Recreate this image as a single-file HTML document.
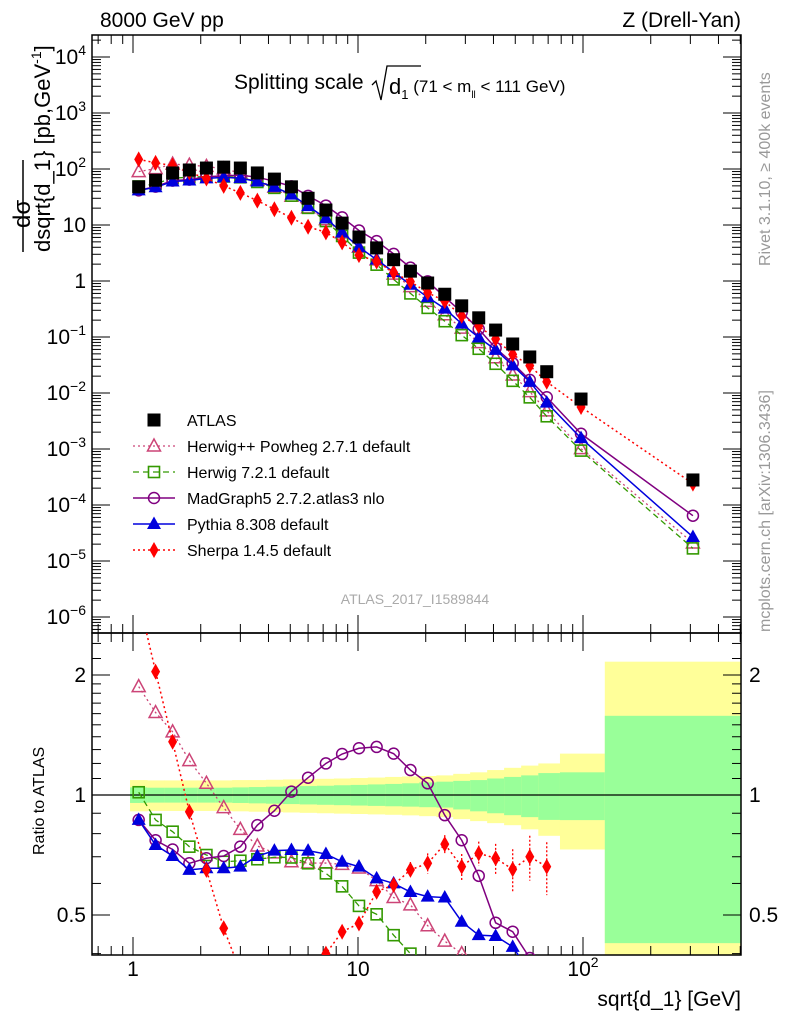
<!DOCTYPE html>
<html><head><meta charset="utf-8"><style>
html,body{margin:0;padding:0;background:#fff;width:786px;height:1024px;overflow:hidden;}
svg{display:block;font-family:"Liberation Sans",sans-serif;}
</style></head><body>
<svg id="chart" width="786" height="1024" viewBox="0 0 786 1024" xmlns="http://www.w3.org/2000/svg">
<defs>
<clipPath id="clipMain"><rect x="92" y="35" width="649" height="598"/></clipPath>
<clipPath id="clipRatio"><rect x="92" y="633" width="649" height="322"/></clipPath>
</defs>
<g id="bands" clip-path="url(#clipRatio)"></g>
<g id="axes"></g>
<g id="mainMarks" clip-path="url(#clipMain)"></g>
<g id="ratioMarks" clip-path="url(#clipRatio)"></g>
<g id="legend"></g>
<text x="100" y="27" font-size="21">8000 GeV pp</text>
<text x="741" y="27" font-size="21" text-anchor="end">Z (Drell-Yan)</text>
<text x="234" y="89" font-size="21">Splitting scale</text>
<path d="M372,85 L376,81 L381,100 L387,66 L421,66" fill="none" stroke="#000" stroke-width="1.3"/>
<text x="389" y="94" font-size="22">d<tspan font-size="13" dy="5">1</tspan><tspan font-size="17" dy="-7"> (71 &lt; m</tspan><tspan font-size="10" dy="6">ll</tspan><tspan font-size="17" dy="-6"> &lt; 111 GeV)</tspan></text>
<text transform="translate(30,228) rotate(-90)" font-size="24">dσ</text>
<line x1="23" y1="252" x2="23" y2="160" stroke="#000" stroke-width="1.5"/>
<text transform="translate(50,252) rotate(-90)" font-size="22">dsqrt{d_1</text>
<text transform="translate(50,158) rotate(-90)" font-size="22">} [pb,GeV<tspan font-size="14" dy="-9">-1</tspan><tspan dy="9">]</tspan></text>
<text transform="translate(44,855) rotate(-90)" font-size="16">Ratio to ATLAS</text>
<text transform="translate(770,266) rotate(-90)" font-size="16" fill="#999">Rivet 3.1.10, ≥ 400k events</text>
<text transform="translate(770,632) rotate(-90)" font-size="16" fill="#999">mcplots.cern.ch [arXiv:1306.3436]</text>
<text x="415" y="604" font-size="14" fill="#aaa" text-anchor="middle">ATLAS_2017_I1589844</text>
<text x="741" y="1006" font-size="21" text-anchor="end">sqrt{d_1} [GeV]</text>
</svg>
<script>
// ---- data ----
const xValues = [1.06,1.26,1.5,1.78,2.12,2.53,3.0,3.57,4.25,5.06,6.0,7.2,8.5,10.1,12.1,14.4,17.1,20.4,24.3,28.9,34.4,40.9,48.7,58,69,98,308];
const binEdges = [0.97,1.155,1.375,1.63,1.94,2.32,2.76,3.27,3.9,4.64,5.51,6.57,7.82,9.27,11.05,13.2,15.7,18.7,22.3,26.5,31.5,37.5,44.6,53.1,63.3,79,125,504];
const atlasValues = [48,63,85,96,104,108,104,85,66,48,30,18.5,10.8,6.1,3.9,2.4,1.5,0.92,0.58,0.36,0.22,0.133,0.075,0.044,0.024,0.0078,0.00028];
const herwigppRatio = [1.87,1.61,1.44,1.22,1.07,0.93,0.82,0.745,0.716,0.68,0.675,0.675,0.67,0.656,0.61,0.553,0.53,0.47,0.43,0.40,0.36,0.32,0.28,0.24,0.2,0.13,0.075];
const herwig7Ratio = [1.016,0.866,0.809,0.742,0.707,0.68,0.684,0.69,0.698,0.697,0.674,0.636,0.59,0.527,0.502,0.445,0.40,0.36,0.33,0.30,0.28,0.25,0.22,0.19,0.16,0.12,0.06];
const madgraphRatio = [0.866,0.77,0.73,0.674,0.694,0.703,0.742,0.84,0.913,1.02,1.105,1.20,1.267,1.31,1.32,1.27,1.155,1.07,0.89,0.77,0.627,0.478,0.454,0.39,0.35,0.24,0.23];
const pythiaRatio = [0.866,0.749,0.703,0.649,0.655,0.655,0.661,0.703,0.725,0.728,0.725,0.711,0.68,0.661,0.618,0.60,0.571,0.556,0.553,0.481,0.445,0.443,0.416,0.36,0.28,0.2,0.096];
const sherpaRatio = [3.1,2.04,1.36,0.908,0.649,0.463,0.36,0.32,0.29,0.28,0.31,0.40,0.454,0.476,0.572,0.595,0.649,0.674,0.753,0.661,0.714,0.694,0.651,0.70,0.661,0.72,0.86];
const sherpaRatioErr = [0,0,0,0,0,0,0,0,0,0,0,0,0.01,0.01,0.02,0.02,0.03,0.04,0.04,0.05,0.05,0.06,0.08,0.09,0.1,0.1,0.1];
const yellowUp = [1.09,1.088,1.088,1.088,1.088,1.088,1.09,1.09,1.092,1.094,1.096,1.098,1.1,1.103,1.106,1.11,1.113,1.116,1.12,1.13,1.14,1.155,1.17,1.185,1.2,1.27,2.16];
const yellowDn = [0.91,0.912,0.912,0.912,0.912,0.912,0.91,0.908,0.906,0.904,0.902,0.9,0.898,0.896,0.894,0.892,0.889,0.885,0.88,0.87,0.86,0.85,0.84,0.82,0.79,0.73,0.3];
const greenUp = [1.045,1.043,1.043,1.043,1.043,1.043,1.045,1.047,1.049,1.051,1.053,1.055,1.058,1.06,1.063,1.066,1.07,1.075,1.08,1.085,1.09,1.1,1.11,1.12,1.135,1.14,1.58];
const greenDn = [0.955,0.957,0.957,0.957,0.957,0.957,0.955,0.953,0.951,0.949,0.947,0.945,0.943,0.941,0.939,0.937,0.935,0.932,0.93,0.92,0.91,0.9,0.89,0.88,0.866,0.865,0.425];
const ratioPointCount = 25;
const mainYTicks = ["10⁻⁶","10⁻⁵","10⁻⁴","10⁻³","10⁻²","10⁻¹","1","10","10²","10³","10⁴"];
const ratioYTicks = [0.5,1,2];
const xTicks = [1,10,100];

// ---- axes functions ----
const NS="http://www.w3.org/2000/svg";
const X0=92,X1=741,MT=35,MB=633,RB=955;
const xp = x => 133 + 225*Math.log10(x);
const yMain = v => 281 - 56*Math.log10(v);
const yRat = r => 795 - 120*Math.log2(r);
function mk(tag, parent, attrs){const e=document.createElementNS(NS,tag);for(const k in attrs)e.setAttribute(k,attrs[k]);parent.appendChild(e);return e;}
const axes=document.getElementById('axes');
const bands=document.getElementById('bands');
const mainG=document.getElementById('mainMarks');
const ratioG=document.getElementById('ratioMarks');
const legend=document.getElementById('legend');

for(let i=0;i<xValues.length;i++){
  const xa=xp(binEdges[i]), xb=xp(binEdges[i+1]);
  const y1=mk('rect',bands,{x:xa,y:yRat(yellowUp[i]),width:xb-xa+0.5,height:yRat(yellowDn[i])-yRat(yellowUp[i]),fill:'#ffff99'});
  
  
  const g1=mk('rect',bands,{x:xa,y:yRat(greenUp[i]),width:xb-xa+0.5,height:yRat(greenDn[i])-yRat(greenUp[i]),fill:'#99ff99'});
  
  
}

const f1=mk('rect',axes,{x:X0,y:MT,width:X1-X0,height:MB-MT,fill:'none',stroke:'#000','stroke-width':1.5});


const f2=mk('rect',axes,{x:X0,y:MB,width:X1-X0,height:RB-MB,fill:'none',stroke:'#000','stroke-width':1.5});


const one=mk('line',axes,{x1:X0,x2:X1,y1:yRat(1),y2:yRat(1),stroke:'#000','stroke-width':1.2});



function tick(x1,y1,x2,y2){mk('line',axes,{x1,y1,x2,y2,stroke:'#000','stroke-width':1});}
for(let d=0.1;d<1000;d*=10){for(let m=1;m<10;m++){const v=d*m; const px=xp(v); if(px<X0||px>X1)continue; const L=(m===1)?18:9;
  tick(px,MT,px,MT+L); tick(px,MB,px,MB-L); tick(px,MB,px,MB+L); tick(px,RB,px,RB-L);}}
xTicks.forEach((v,i)=>{const t=mk('text',axes,{x:xp(v),y:976,'font-size':21,'text-anchor':'middle'});
  t.textContent = v===100?'10':String(v);
  if(v===100){const s=mk('tspan',t,{'font-size':14,dy:-9});s.textContent='2';}
  
  });
for(let e=-7;e<=4;e++){for(let m=1;m<10;m++){const v=m*Math.pow(10,e);const py=yMain(v);if(py<MT||py>MB)continue;const L=(m===1)?18:9;
  tick(X0,py,X0+L,py); tick(X1,py,X1-L,py);}}
mainYTicks.forEach((lab,i)=>{const e=i-6;const py=yMain(Math.pow(10,e));
  const t=mk('text',axes,{x:86,y:py+7,'font-size':21,'text-anchor':'end'});
  if(e===0||e===1){t.textContent=lab;} else {t.textContent='10';const s=mk('tspan',t,{'font-size':14,dy:-9});s.textContent=(e<0?'−':'')+Math.abs(e);}
  
  });
[0.4,0.6,0.7,0.8,0.9,1.1,1.2,1.3,1.4,1.5,1.6,1.7,1.8,1.9,2.2,2.4].forEach(v=>{const py=yRat(v);tick(X0,py,X0+9,py);tick(X1,py,X1-9,py);});
ratioYTicks.forEach(v=>{const py=yRat(v);tick(X0,py,X0+18,py);tick(X1,py,X1-18,py);
  const t=mk('text',axes,{x:86,y:py+7,'font-size':21,'text-anchor':'end'});t.textContent=String(v);
  
  
  const t2=mk('text',axes,{x:749,y:py+7,'font-size':21});t2.textContent=String(v);
  
  });

function marker(g,type,cx,cy,color,s){
  s=s||1;
  if(type==='square') return mk('rect',g,{x:cx-6.5*s,y:cy-6.5*s,width:13*s,height:13*s,fill:'#000'});
  if(type==='osquare') return mk('rect',g,{x:cx-5.5,y:cy-5.5,width:11,height:11,fill:'none',stroke:color,'stroke-width':1.6});
  if(type==='otri') return mk('path',g,{d:`M${cx},${cy-7} L${cx+6.5},${cy+5} L${cx-6.5},${cy+5} Z`,fill:'none',stroke:color,'stroke-width':1.5});
  if(type==='tri') return mk('path',g,{d:`M${cx},${cy-7.5} L${cx+7},${cy+5} L${cx-7},${cy+5} Z`,fill:color});
  if(type==='ocirc') return mk('circle',g,{cx,cy,r:5.5,fill:'none',stroke:color,'stroke-width':1.5});
  if(type==='diam') return mk('path',g,{d:`M${cx},${cy-8} L${cx+4.5},${cy} L${cx},${cy+8} L${cx-4.5},${cy} Z`,fill:color});
}
const series=[
  {name:'herwigpp',label:'Herwig++ Powheg 2.7.1 default',r:herwigppRatio,color:'#cc4477',mk:'otri',dash:'2,3',w:1.3},
  {name:'herwig7',label:'Herwig 7.2.1 default',r:herwig7Ratio,color:'#339900',mk:'osquare',dash:'6,4',w:1.3},
  {name:'madgraph',label:'MadGraph5 2.7.2.atlas3 nlo',r:madgraphRatio,color:'#800080',mk:'ocirc',dash:'',w:1.5},
  {name:'pythia',label:'Pythia 8.308 default',r:pythiaRatio,color:'#0000dd',mk:'tri',dash:'',w:1.5},
  {name:'sherpa',label:'Sherpa 1.4.5 default',r:sherpaRatio,color:'#ff0000',mk:'diam',dash:'2,3',w:1.5}
];
series.forEach(s=>{
  const mainPts=xValues.map((x,i)=>[xp(x),yMain(atlasValues[i]*s.r[i])]);
  const ratPts=xValues.slice(0,ratioPointCount).map((x,i)=>[xp(x),yRat(s.r[i])]);
  const l1=mk('polyline',mainG,{points:mainPts.map(p=>p.join(',')).join(' '),fill:'none',stroke:s.color,'stroke-width':s.w,'stroke-dasharray':s.dash});
  
  
  const l2=mk('polyline',ratioG,{points:ratPts.map(p=>p.join(',')).join(' '),fill:'none',stroke:s.color,'stroke-width':s.w,'stroke-dasharray':s.dash});
  
  
  mainPts.forEach(p=>{const m=marker(mainG,s.mk,p[0],p[1],s.color);
    
    });
  ratPts.forEach(p=>{const m=marker(ratioG,s.mk,p[0],p[1],s.color);
    
    });
});
xValues.slice(0,ratioPointCount).forEach((x,i)=>{if(!sherpaRatioErr[i])return;const r=sherpaRatio[i];
  const e=mk('line',ratioG,{x1:xp(x),x2:xp(x),y1:yRat(r+sherpaRatioErr[i]),y2:yRat(r-sherpaRatioErr[i]),stroke:'#ff0000','stroke-width':1.3,'stroke-dasharray':'2,2'});
  
  });
xValues.forEach((x,i)=>{const m=marker(mainG,'square',xp(x),yMain(atlasValues[i]));
  
  });

const legY=[420,446,472,498,524,550];
const lm=marker(legend,'square',154,legY[0]);


const lt=mk('text',legend,{x:187,y:legY[0]+6,'font-size':16});lt.textContent='ATLAS';


series.forEach((s,k)=>{const y=legY[k+1];
  const ln=mk('line',legend,{x1:133,x2:175,y1:y,y2:y,stroke:s.color,'stroke-width':s.w,'stroke-dasharray':s.dash});
  
  
  const m=marker(legend,s.mk,154,y,s.color);
  
  
  const t=mk('text',legend,{x:187,y:y+6,'font-size':16});t.textContent=s.label;
  
  });
</script>
</body></html>
